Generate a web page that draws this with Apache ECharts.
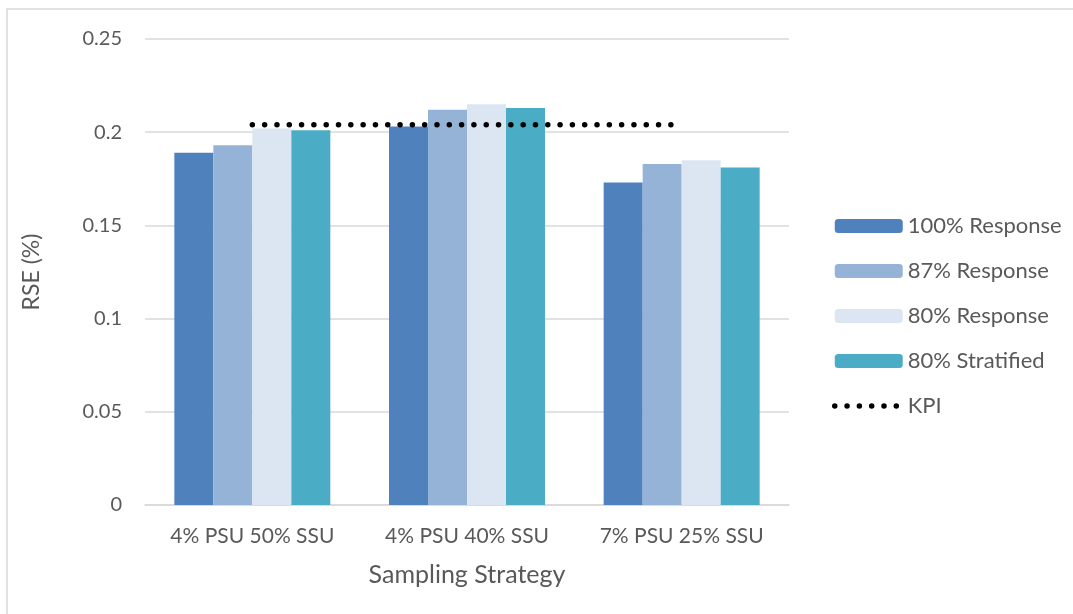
<!DOCTYPE html>
<html>
<head>
<meta charset="utf-8">
<script src="https://cdn.jsdelivr.net/npm/echarts@6/dist/echarts.min.js"></script>
<style>
html,body{margin:0;padding:0;background:#fff;}
#chart{width:1073px;height:614px;}
</style>
</head>
<body>
<div id="chart"></div>
<script>
const categories = ['4% PSU 50% SSU', '4% PSU 40% SSU', '7% PSU 25% SSU'];
const resp100 = [0.189, 0.203, 0.173];
const resp87 = [0.193, 0.212, 0.183];
const resp80 = [0.202, 0.215, 0.185];
const strat80 = [0.201, 0.213, 0.181];
const kpi = [0.204, 0.204, 0.204];
const yTicks = { min: 0, max: 0.25, interval: 0.05 };

const FONT = 'Lato';
const TXT = '#595959';
const GRID = '#D9D9D9';
const dotStyle = { color: '#000', width: 5.5, type: [0.01, 12.3], cap: 'round' };

const chart = echarts.init(document.getElementById('chart'));
function bar(name, data, color) {
  return { name, type: 'bar', data, barWidth: 39, barGap: '0%', itemStyle: { color } };
}
chart.setOption({
  animation: false,
  textStyle: { fontFamily: FONT, color: TXT },
  graphic: [{
    type: 'rect', shape: { x: 7, y: 9, width: 1100, height: 700 },
    style: { fill: null, stroke: GRID, lineWidth: 1.5 }, silent: true, z: -1
  }],
  grid: { left: 145, right: 284, top: 39, bottom: 109, containLabel: false },
  xAxis: {
    type: 'category', data: categories,
    axisLine: { lineStyle: { color: GRID, width: 1.5 } },
    axisTick: { show: false },
    axisLabel: { color: TXT, fontFamily: FONT, fontSize: 21, margin: 21 },
    name: 'Sampling Strategy', nameLocation: 'middle', nameGap: 57,
    nameTextStyle: { color: TXT, fontFamily: FONT, fontSize: 25 }
  },
  yAxis: {
    type: 'value', min: yTicks.min, max: yTicks.max, interval: yTicks.interval,
    axisLine: { show: false }, axisTick: { show: false },
    splitLine: { lineStyle: { color: GRID, width: 1.5 } },
    axisLabel: { color: TXT, fontFamily: FONT, fontSize: 20, margin: 23 },
    name: 'RSE (%)', nameLocation: 'middle', nameGap: 102, nameRotate: 90,
    nameTextStyle: { color: TXT, fontFamily: FONT, fontSize: 23 }
  },
  legend: {
    orient: 'vertical', left: 832, top: 215, padding: 0,
    itemWidth: 68, itemHeight: 14, itemGap: 23,
    textStyle: { color: TXT, fontFamily: FONT, fontSize: 22, lineHeight: 22 },
    data: ['100% Response', '87% Response', '80% Response', '80% Stratified',
      { name: 'KPI', itemStyle: { opacity: 0 }, lineStyle: dotStyle }]
  },
  series: [
    bar('100% Response', resp100, '#4F81BD'),
    bar('87% Response', resp87, '#95B3D7'),
    bar('80% Response', resp80, '#DCE6F2'),
    bar('80% Stratified', strat80, '#4BACC6'),
    {
      name: 'KPI', type: 'line', data: kpi, symbol: 'none', z: 5,
      lineStyle: dotStyle,
      itemStyle: { color: '#000' }
    }
  ]
});
</script>
</body>
</html>
